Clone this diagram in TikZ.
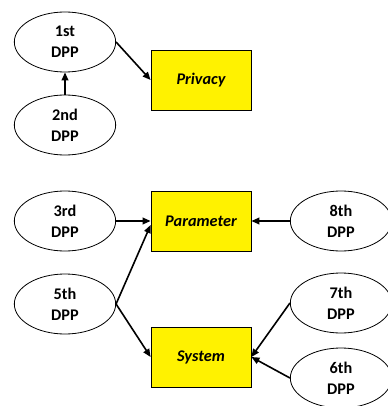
\documentclass[tikz,border=0pt]{standalone}
\usepackage{fontspec}
\setsansfont{Carlito}
\usetikzlibrary{shapes.geometric,arrows.meta}

\begin{document}
\begin{tikzpicture}[x=0.75pt,y=-0.75pt,
    dpp/.style={draw, ellipse, line width=0.6pt, minimum width=76pt, minimum height=45pt,
      inner sep=0pt, align=center, font=\sffamily\bfseries\fontsize{12.2}{15.6}\selectfont},
    topic/.style={draw, fill=yellow, line width=0.6pt, minimum width=75pt, minimum height=45pt,
      font=\sffamily\bfseries\itshape\fontsize{12.2}{15.6}\selectfont},
    link/.style={-{Triangle[length=6pt,width=5pt]}, line width=1.2pt}]

   \useasboundingbox (0,0) rectangle (387,406);

   \node[dpp] (dpp1) at (65,42) {1st\\DPP};
   \node[dpp] (dpp2) at (65,125) {2nd\\DPP};
   \node[topic] (priv) at (201,80) {Privacy};

   \node[dpp] (dpp3) at (65,221) {3rd\\DPP};
   \node[dpp] (dpp5) at (65,304) {5th\\DPP};
   \node[topic] (param) at (201,221) {Parameter};
   \node[topic] (sys) at (201,357) {System};
   \node[dpp] (dpp8) at (341,221) {8th\\DPP};
   \node[dpp] (dpp7) at (341,303) {7th\\DPP};
   \node[dpp] (dpp6) at (341,378) {6th\\DPP};

   \draw[link] (dpp2) -- (dpp1);
   \draw[link] (dpp1.east) -- (priv.west);
   \draw[link] (dpp3) -- (param);
   \draw[link] (dpp8) -- (param);
   \draw[link] (dpp5.east) -- ([yshift=-3pt]param.west);
   \draw[link] (dpp5.east) -- (sys.west);
   \draw[link] (dpp7.west) -- (sys.east);
   \draw[link] (dpp6.west) -- (sys.east);
  \end{tikzpicture}
\end{document}
